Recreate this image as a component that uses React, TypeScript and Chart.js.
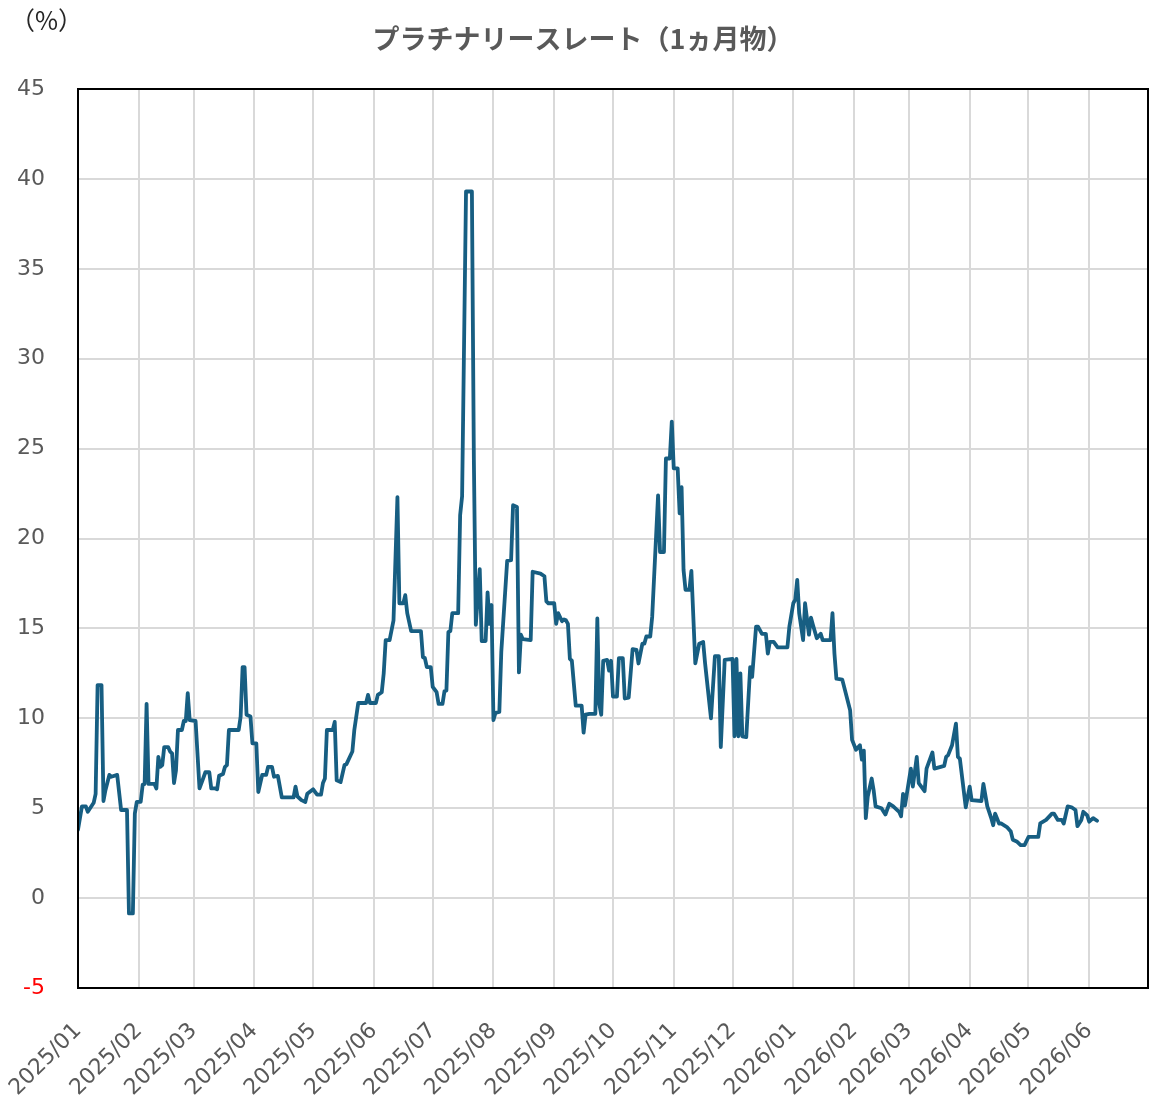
import { useEffect, useRef } from "react";
import { Chart, registerables } from "chart.js";

Chart.register(...registerables);

const TITLE = "プラチナリースレート（1ヵ月物）";
const UNIT_LABEL = "（%）";
const TICK_LABELS = [
  "2025/01", "2025/02", "2025/03", "2025/04", "2025/05", "2025/06",
  "2025/07", "2025/08", "2025/09", "2025/10", "2025/11", "2025/12",
  "2026/01", "2026/02", "2026/03", "2026/04", "2026/05", "2026/06",
];
const AXIS_END = "2026/07";
const Y_MIN = -5;
const Y_MAX = 45;
const Y_STEP = 5;

const DATES = [
  "2025-01-01", "2025-01-03", "2025-01-05", "2025-01-06", "2025-01-09", "2025-01-10", "2025-01-11", "2025-01-13",
  "2025-01-14", "2025-01-15", "2025-01-17", "2025-01-18", "2025-01-21", "2025-01-23", "2025-01-26", "2025-01-27",
  "2025-01-29", "2025-01-30", "2025-01-31", "2025-02-02", "2025-02-03", "2025-02-04", "2025-02-05", "2025-02-06",
  "2025-02-09", "2025-02-10", "2025-02-11", "2025-02-12", "2025-02-13", "2025-02-14", "2025-02-16", "2025-02-17",
  "2025-02-18", "2025-02-19", "2025-02-20", "2025-02-21", "2025-02-23", "2025-02-24", "2025-02-25", "2025-02-26",
  "2025-02-27", "2025-03-02", "2025-03-04", "2025-03-05", "2025-03-07", "2025-03-09", "2025-03-10", "2025-03-12",
  "2025-03-13", "2025-03-14", "2025-03-16", "2025-03-17", "2025-03-18", "2025-03-19", "2025-03-24", "2025-03-25",
  "2025-03-26", "2025-03-27", "2025-03-28", "2025-03-30", "2025-03-31", "2025-04-02", "2025-04-03", "2025-04-05",
  "2025-04-07", "2025-04-08", "2025-04-10", "2025-04-11", "2025-04-13", "2025-04-15", "2025-04-21", "2025-04-22",
  "2025-04-23", "2025-04-25", "2025-04-27", "2025-04-28", "2025-05-01", "2025-05-03", "2025-05-05", "2025-05-06",
  "2025-05-07", "2025-05-08", "2025-05-11", "2025-05-12", "2025-05-13", "2025-05-15", "2025-05-17", "2025-05-18",
  "2025-05-21", "2025-05-22", "2025-05-24", "2025-05-28", "2025-05-29", "2025-05-30", "2025-06-02", "2025-06-03",
  "2025-06-05", "2025-06-06", "2025-06-07", "2025-06-09", "2025-06-11", "2025-06-13", "2025-06-14", "2025-06-16",
  "2025-06-17", "2025-06-18", "2025-06-20", "2025-06-25", "2025-06-26", "2025-06-27", "2025-06-28", "2025-06-30",
  "2025-07-01", "2025-07-03", "2025-07-04", "2025-07-06", "2025-07-07", "2025-07-08", "2025-07-09", "2025-07-10",
  "2025-07-11", "2025-07-14", "2025-07-15", "2025-07-16", "2025-07-18", "2025-07-21", "2025-07-22", "2025-07-23",
  "2025-07-25", "2025-07-26", "2025-07-28", "2025-07-29", "2025-07-30", "2025-07-31", "2025-08-01", "2025-08-02",
  "2025-08-04", "2025-08-05", "2025-08-08", "2025-08-10", "2025-08-11", "2025-08-13", "2025-08-14", "2025-08-15",
  "2025-08-16", "2025-08-20", "2025-08-21", "2025-08-25", "2025-08-27", "2025-08-28", "2025-08-29", "2025-09-01",
  "2025-09-02", "2025-09-03", "2025-09-05", "2025-09-06", "2025-09-07", "2025-09-08", "2025-09-09", "2025-09-10",
  "2025-09-12", "2025-09-15", "2025-09-16", "2025-09-17", "2025-09-19", "2025-09-22", "2025-09-23", "2025-09-24",
  "2025-09-25", "2025-09-26", "2025-09-28", "2025-09-29", "2025-09-30", "2025-10-01", "2025-10-03", "2025-10-04",
  "2025-10-06", "2025-10-07", "2025-10-09", "2025-10-11", "2025-10-13", "2025-10-14", "2025-10-16", "2025-10-17",
  "2025-10-18", "2025-10-20", "2025-10-21", "2025-10-24", "2025-10-25", "2025-10-27", "2025-10-28", "2025-10-30",
  "2025-10-31", "2025-11-01", "2025-11-03", "2025-11-04", "2025-11-05", "2025-11-06", "2025-11-07", "2025-11-09",
  "2025-11-10", "2025-11-12", "2025-11-14", "2025-11-16", "2025-11-17", "2025-11-20", "2025-11-22", "2025-11-24",
  "2025-11-25", "2025-11-27", "2025-12-01", "2025-12-02", "2025-12-03", "2025-12-04", "2025-12-05", "2025-12-06",
  "2025-12-08", "2025-12-10", "2025-12-11", "2025-12-13", "2025-12-14", "2025-12-16", "2025-12-18", "2025-12-19",
  "2025-12-20", "2025-12-22", "2025-12-24", "2025-12-29", "2025-12-30", "2026-01-01", "2026-01-02", "2026-01-03",
  "2026-01-04", "2026-01-06", "2026-01-07", "2026-01-09", "2026-01-10", "2026-01-11", "2026-01-13", "2026-01-15",
  "2026-01-16", "2026-01-20", "2026-01-21", "2026-01-22", "2026-01-23", "2026-01-26", "2026-01-30", "2026-01-31",
  "2026-02-02", "2026-02-04", "2026-02-05", "2026-02-06", "2026-02-07", "2026-02-08", "2026-02-10", "2026-02-11",
  "2026-02-12", "2026-02-15", "2026-02-17", "2026-02-19", "2026-02-21", "2026-02-24", "2026-02-25", "2026-02-26",
  "2026-02-27", "2026-03-02", "2026-03-03", "2026-03-05", "2026-03-06", "2026-03-09", "2026-03-10", "2026-03-13",
  "2026-03-14", "2026-03-19", "2026-03-20", "2026-03-21", "2026-03-23", "2026-03-25", "2026-03-26", "2026-03-27",
  "2026-03-30", "2026-04-01", "2026-04-02", "2026-04-07", "2026-04-08", "2026-04-10", "2026-04-12", "2026-04-13",
  "2026-04-14", "2026-04-16", "2026-04-17", "2026-04-20", "2026-04-22", "2026-04-23", "2026-04-25", "2026-04-27",
  "2026-04-29", "2026-05-01", "2026-05-06", "2026-05-07", "2026-05-10", "2026-05-13", "2026-05-14", "2026-05-16",
  "2026-05-18", "2026-05-19", "2026-05-21", "2026-05-23", "2026-05-25", "2026-05-26", "2026-05-28", "2026-05-29",
  "2026-05-31", "2026-06-01", "2026-06-03", "2026-06-05",
];

const RATES = [
  3.8, 5.1, 5.1, 4.8, 5.3, 5.8, 11.85, 11.85,
  5.4, 6.0, 6.85, 6.75, 6.85, 4.9, 4.9, -0.85,
  -0.85, 4.7, 5.35, 5.35, 6.3, 6.35, 10.8, 6.35,
  6.35, 6.1, 7.85, 7.3, 7.4, 8.4, 8.4, 8.15,
  8.05, 6.4, 7.1, 9.35, 9.35, 9.85, 9.85, 11.4,
  9.9, 9.85, 6.1, 6.4, 7.0, 7.0, 6.1, 6.1,
  6.05, 6.8, 6.9, 7.3, 7.4, 9.35, 9.35, 10.1,
  12.85, 12.85, 10.2, 10.1, 8.6, 8.6, 5.9, 6.85,
  6.85, 7.3, 7.3, 6.75, 6.8, 5.6, 5.6, 6.2,
  5.65, 5.45, 5.35, 5.8, 6.05, 5.75, 5.75, 6.4,
  6.65, 9.35, 9.35, 9.8, 6.55, 6.45, 7.4, 7.45,
  8.15, 9.35, 10.85, 10.85, 11.3, 10.85, 10.85, 11.3,
  11.45, 12.5, 14.35, 14.35, 15.45, 22.3, 16.4, 16.4,
  16.85, 15.85, 14.85, 14.85, 13.4, 13.35, 12.85, 12.85,
  11.75, 11.45, 10.8, 10.8, 11.5, 11.55, 14.8, 14.85,
  15.85, 15.85, 21.3, 22.35, 39.3, 39.3, 24.4, 15.2,
  18.3, 14.3, 14.3, 17.0, 15.25, 16.3, 9.9, 10.3,
  10.35, 13.7, 18.75, 18.8, 21.85, 21.75, 12.55, 14.65,
  14.4, 14.35, 18.15, 18.05, 17.9, 16.5, 16.4, 16.4,
  15.25, 15.85, 15.4, 15.5, 15.45, 15.25, 13.3, 13.2,
  10.7, 10.7, 9.2, 10.2, 10.25, 10.25, 15.55, 10.8,
  10.2, 13.2, 13.25, 12.65, 13.2, 11.2, 11.2, 13.35,
  13.35, 11.1, 11.15, 13.85, 13.8, 13.05, 14.15, 14.15,
  14.55, 14.55, 15.65, 22.4, 19.25, 19.25, 24.45, 24.45,
  26.5, 23.9, 23.9, 21.4, 22.85, 18.25, 17.15, 17.15,
  18.2, 13.05, 14.15, 14.25, 13.05, 10.0, 13.45, 13.45,
  8.4, 13.25, 13.3, 9.0, 13.3, 9.0, 12.5, 9.0,
  8.95, 12.85, 12.3, 15.1, 15.1, 14.7, 14.7, 13.6,
  14.25, 14.25, 13.95, 13.95, 15.1, 16.4, 16.6, 17.7,
  15.85, 14.35, 16.4, 14.65, 15.6, 15.2, 14.45, 14.7,
  14.35, 14.35, 15.85, 13.6, 12.2, 12.15, 10.45, 8.8,
  8.25, 8.5, 7.7, 8.2, 4.45, 5.65, 6.65, 6.0,
  5.1, 5.0, 4.65, 5.25, 5.1, 4.8, 4.55, 5.8,
  5.15, 7.2, 6.2, 7.85, 6.4, 5.95, 7.2, 8.1,
  7.2, 7.35, 7.85, 7.95, 8.5, 9.7, 7.85, 7.75,
  5.05, 6.2, 5.45, 5.4, 6.35, 5.1, 4.45, 4.05,
  4.7, 4.15, 4.15, 3.95, 3.7, 3.25, 3.15, 2.95,
  2.95, 3.4, 3.4, 4.15, 4.35, 4.7, 4.7, 4.35,
  4.35, 4.15, 5.1, 5.05, 4.9, 4.0, 4.35, 4.8,
  4.6, 4.25, 4.45, 4.3,
];

const MS_PER_DAY = 86400000;
const ORIGIN = Date.UTC(2025, 0, 1);

function dayOfDate(iso: string): number {
  const [y, m, d] = iso.split("-").map(Number);
  return (Date.UTC(y, m - 1, d) - ORIGIN) / MS_PER_DAY;
}

function dayOfMonthLabel(label: string): number {
  const [y, m] = label.split("/").map(Number);
  return (Date.UTC(y, m - 1, 1) - ORIGIN) / MS_PER_DAY;
}

const TEXT_GRAY = "#595959";
const LINE_COLOR = "#175e82";
const GRID_COLOR = "#d9d9d9";
const FONT = "'DejaVu Sans', Verdana, sans-serif";
const CJK_FONT = "'Noto Sans CJK JP', sans-serif";

const decorPlugin = {
  id: "decor",
  beforeDraw(chart: any) {
    const { ctx, width, height } = chart;
    ctx.save();
    ctx.fillStyle = "#ffffff";
    ctx.fillRect(0, 0, width, height);
    ctx.restore();
  },
  afterDraw(chart: any) {
    const { ctx, chartArea, width } = chart;
    const { left, top, right, bottom } = chartArea;
    ctx.save();
    ctx.strokeStyle = "#000000";
    ctx.lineWidth = 2;
    ctx.strokeRect(left, top, right - left, bottom - top);

    ctx.fillStyle = TEXT_GRAY;
    ctx.font = `bold 27px ${CJK_FONT}`;
    ctx.textAlign = "center";
    ctx.textBaseline = "middle";
    ctx.fillText(TITLE, width / 2 + 7, 39);

    ctx.fillStyle = "#262626";
    ctx.font = `25px ${CJK_FONT}`;
    ctx.textAlign = "left";
    ctx.fillText(UNIT_LABEL, 10, 20);
    ctx.restore();
  },
};

export default function App() {
  const canvasRef = useRef<HTMLCanvasElement | null>(null);

  useEffect(() => {
    const canvas = canvasRef.current;
    if (!canvas) return;
    const points = DATES.map((d, i) => ({ x: dayOfDate(d), y: RATES[i] }));
    const tickDays = TICK_LABELS.map(dayOfMonthLabel);

    const chart = new Chart(canvas, {
      type: "line",
      data: {
        datasets: [
          {
            label: TITLE,
            data: points,
            borderColor: LINE_COLOR,
            borderWidth: 3.8,
            pointRadius: 0,
            tension: 0,
            fill: false,
            borderJoinStyle: "round",
            borderCapStyle: "round",
          },
        ],
      },
      options: {
        responsive: false,
        animation: false,
        layout: { padding: { left: 0, top: 89, right: 4, bottom: 0 } },
        plugins: {
          legend: { display: false },
          title: { display: false },
          tooltip: { enabled: false },
        },
        scales: {
          x: {
            type: "linear",
            min: 0,
            max: dayOfMonthLabel(AXIS_END),
            afterBuildTicks: (scale: any) => {
              scale.ticks = tickDays.map((v) => ({ value: v }));
            },
            afterFit: (scale: any) => {
              scale.height = 107;
              scale.paddingLeft = 0;
              scale.paddingRight = 0;
            },
            grid: { color: GRID_COLOR, lineWidth: 2, drawTicks: false },
            border: { display: false },
            ticks: {
              autoSkip: false,
              maxRotation: 45,
              minRotation: 45,
              padding: 30,
              color: TEXT_GRAY,
              font: { family: FONT, size: 22 },
              callback: (_v: any, i: number) => TICK_LABELS[i],
            },
          },
          y: {
            type: "linear",
            min: Y_MIN,
            max: Y_MAX,
            afterFit: (scale: any) => {
              scale.width = 78;
              scale.paddingTop = 0;
              scale.paddingBottom = 0;
            },
            grid: { color: GRID_COLOR, lineWidth: 2, drawTicks: false },
            border: { display: false },
            ticks: {
              stepSize: Y_STEP,
              padding: 33,
              color: (c: any) => (c.tick && c.tick.value < 0 ? "#ff0000" : TEXT_GRAY),
              font: { family: FONT, size: 22 },
            },
          },
        },
      },
      plugins: [decorPlugin],
    });
    return () => chart.destroy();
  }, []);

  return (
    <div style={{ position: "absolute", left: 0, top: 0, width: 1152, height: 1095, background: "#fff" }}>
      <canvas ref={canvasRef} width={1152} height={1095} style={{ display: "block" }} />
    </div>
  );
}
